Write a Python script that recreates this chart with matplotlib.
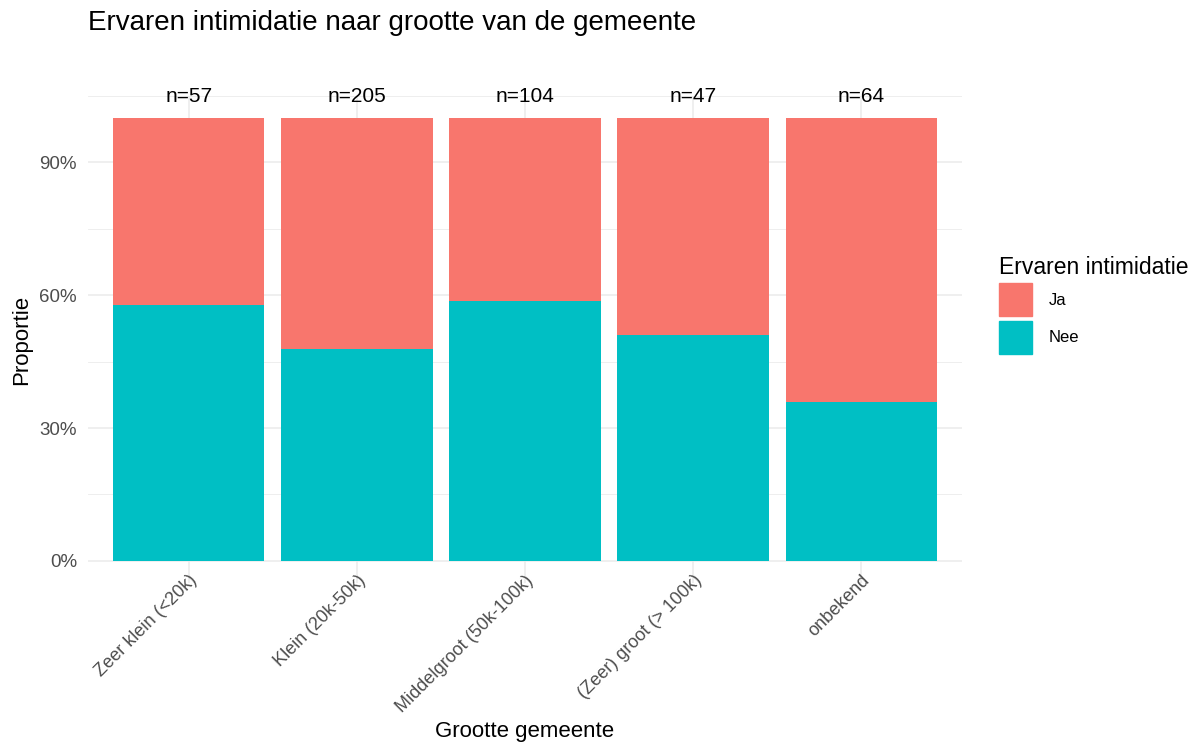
import numpy as np
import matplotlib.pyplot as plt
from matplotlib.patches import Patch
from matplotlib.ticker import FixedLocator, FuncFormatter

# data
groups = ['Zeer klein (<20k)', 'Klein (20k-50k)', 'Middelgroot (50k-100k)', '(Zeer) groot (> 100k)', 'onbekend']
n_total = [57, 205, 104, 47, 64]
nee = [0.579, 0.478, 0.587, 0.511, 0.359]
ja = [1 - v for v in nee]

plt.rcParams['font.family'] = ['Liberation Sans', 'DejaVu Sans']

fig = plt.figure(figsize=(11.97, 7.45), dpi=100)
ax = fig.add_axes([88 / 1197, 1 - 583 / 745, (962 - 88) / 1197, (583 - 96) / 745])

x = np.arange(len(groups))
ax.bar(x, nee, width=0.9, color='#00BFC4', zorder=2)
ax.bar(x, ja, width=0.9, bottom=nee, color='#F8766D', zorder=2)
for i in range(len(groups)):
    ax.text(x[i], 1.05, 'n=%d' % n_total[i], ha='center', va='center', fontsize=15, color='black', zorder=3)

ax.set_xlim(-0.6, len(groups) - 0.4)
ax.set_ylim(-0.05, 1.05)
ax.yaxis.set_major_locator(FixedLocator([0, 0.3, 0.6, 0.9]))
ax.yaxis.set_minor_locator(FixedLocator([0.15, 0.45, 0.75, 1.05]))
ax.yaxis.set_major_formatter(FuncFormatter(lambda v, p: '%d%%' % round(v * 100)))
ax.set_xticks(x)
ax.set_xticklabels(groups, rotation=45, ha='right', rotation_mode='anchor', fontsize=13, color='#4D4D4D')
ax.tick_params(axis='x', pad=-8)
ax.tick_params(axis='y', labelsize=13.5, labelcolor='#4D4D4D', pad=8)
ax.tick_params(which='both', length=0)
ax.grid(which='major', color='#EBEBEB', linewidth=1.1, zorder=0)
ax.grid(which='minor', axis='y', color='#EBEBEB', linewidth=0.6, zorder=0)
for s in ax.spines.values():
    s.set_visible(False)

ax.set_xlabel('Grootte gemeente', fontsize=16, labelpad=4)
ax.set_ylabel('Proportie', fontsize=16, labelpad=5)
fig.text(88 / 1197, 1 - 23 / 745, 'Ervaren intimidatie naar grootte van de gemeente', fontsize=20, ha='left', va='center')

handles = [Patch(color='#F8766D', label='Ja'), Patch(color='#00BFC4', label='Nee')]
leg = fig.legend(handles=handles, title='Ervaren intimidatie', loc='upper left',
                 bbox_to_anchor=(984 / 1197, 1 - 241 / 745), frameon=False, fontsize=12,
                 title_fontsize=16.5, handlelength=2.0, handleheight=2.7, labelspacing=0.25,
                 handletextpad=1.0, alignment='left')

fig.savefig('out.png', dpi=100)
